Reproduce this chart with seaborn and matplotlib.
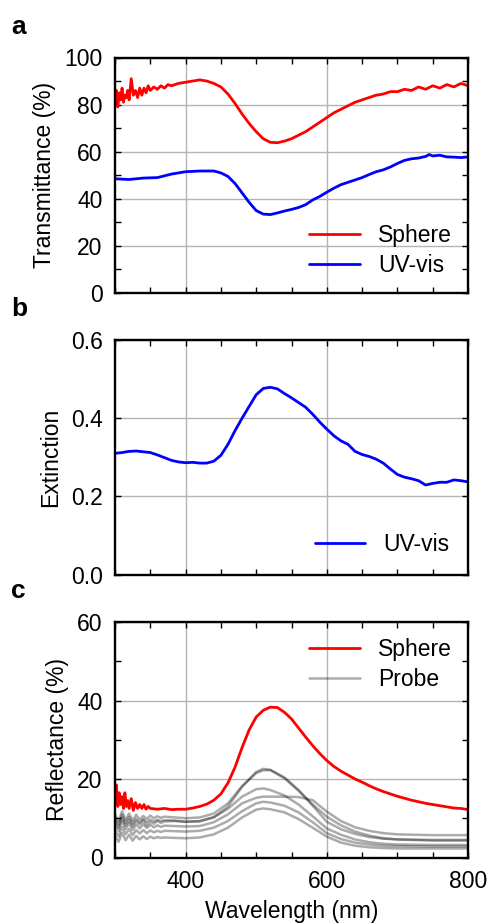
import matplotlib
matplotlib.use("Agg")
import matplotlib.pyplot as plt
from matplotlib.ticker import MultipleLocator, FixedLocator
import seaborn as sns

# ---- panel a: transmittance ----
wl_sphere_a = [300, 302, 304, 306, 308, 310, 312, 314, 316, 318, 320, 323, 326, 329, 332,
               335, 338, 341, 344, 347, 350, 355, 360, 365, 370, 375, 380, 390, 400, 410,
               420, 430, 440, 450, 460, 470, 480, 490, 500, 510, 520, 530, 540, 550, 560,
               570, 580, 590, 600, 610, 620, 630, 640, 650, 660, 670, 680, 690, 700, 710,
               720, 730, 740, 750, 760, 770, 780, 790, 800]
sphere_a = [80, 86, 79, 85, 82, 87, 81, 84, 83, 86, 82, 91, 84, 86, 83,
            87, 84, 87, 85, 88, 86, 87.5, 86.5, 88, 87, 88.5, 88, 89, 89.5, 90,
            90.5, 90, 89, 87.5, 84.5, 80.5, 76, 72, 68.5, 65.5, 64, 63.8, 64.5, 65.5, 67,
            68.5, 70.5, 72.5, 74.5, 76.5, 78, 79.5, 81, 82, 83, 84, 84.5, 85.5, 85.5, 86.5,
            86, 87.5, 86.5, 88, 87, 88.5, 87.5, 89, 88]

wl_uvvis_a = [300, 320, 340, 360, 380, 400, 420, 440, 450, 460, 470, 480, 490, 500, 510,
              520, 530, 540, 550, 560, 570, 580, 590, 600, 610, 620, 630, 640, 650, 660,
              670, 680, 690, 700, 710, 720, 730, 740, 745, 750, 760, 770, 780, 790, 800]
uvvis_a = [48.5, 48.2, 48.8, 49, 50.5, 51.5, 51.8, 51.8, 51, 49.5, 46.5, 42.5, 38.5, 35, 33.5,
           33.3, 34, 34.8, 35.5, 36.3, 37.5, 39.5, 41, 42.8, 44.5, 46, 47, 48, 49, 50.3,
           51.5, 52.3, 53.5, 55, 56.3, 57, 57.3, 58, 58.8, 58.2, 58.5, 57.8, 57.7, 57.5, 57.8]

# ---- panel b: extinction ----
wl_ext = [300, 310, 320, 330, 340, 350, 360, 370, 380, 390, 400, 410, 420, 430, 440,
          450, 460, 470, 480, 490, 500, 510, 520, 530, 540, 550, 560, 570, 580, 590,
          600, 610, 620, 630, 640, 650, 660, 670, 680, 690, 700, 710, 720, 730, 740,
          750, 760, 770, 780, 790, 800]
extinction = [0.31, 0.312, 0.315, 0.316, 0.314, 0.312, 0.306, 0.299, 0.292, 0.288, 0.286, 0.287, 0.285, 0.285, 0.29,
              0.305, 0.333, 0.368, 0.40, 0.43, 0.46, 0.476, 0.479, 0.475, 0.463, 0.452, 0.44, 0.428, 0.41, 0.39,
              0.372, 0.355, 0.342, 0.333, 0.315, 0.307, 0.302, 0.295, 0.285, 0.27, 0.256, 0.249, 0.245, 0.240, 0.229,
              0.233, 0.236, 0.236, 0.242, 0.240, 0.237]

# ---- panel c: reflectance ----
wl_sphere_c = [300, 302, 304, 306, 308, 310, 312, 314, 316, 318, 320, 323, 326, 329, 332,
               335, 338, 341, 344, 347, 350, 360, 370, 380, 390, 400, 410, 420, 430, 440,
               450, 460, 470, 480, 490, 500, 510, 520, 530, 540, 550, 560, 570, 580, 590,
               600, 610, 620, 630, 640, 650, 660, 670, 680, 690, 700, 710, 720, 730, 740,
               750, 760, 770, 780, 790, 800]
sphere_c = [14, 18.5, 13, 16.5, 13.5, 15.5, 12.5, 16.5, 13, 14.5, 12.5, 15, 12, 14, 12.5,
            13.5, 12.5, 13.5, 12.3, 13, 12.5, 12.3, 12.5, 12.2, 12.3, 12.3, 12.6, 13, 13.6, 14.6,
            16.2, 19, 23, 28, 32.5, 35.8, 37.5, 38.3, 38.2, 37, 35.3, 33, 30.7, 28.5, 26.5,
            24.7, 23.2, 22, 21, 20, 19.2, 18.3, 17.5, 16.8, 16.2, 15.6, 15.1, 14.6, 14.2, 13.8,
            13.5, 13.2, 12.9, 12.6, 12.5, 12.2]

wl_probe = [300, 305, 310, 315, 320, 325, 330, 335, 340, 345, 350, 355, 360, 365, 370,
            385, 400, 420, 440, 460, 480, 500, 510, 520, 540, 560, 580, 600, 620, 640,
            660, 680, 700, 750, 800]
probe_1 = [9.5, 7.6, 10.2, 8.1, 9.6, 7.9, 9.3, 8.4, 9.5, 8.1, 9.1, 8.6, 9.3, 8.8, 9.2,
           9.3, 9.1, 9.2, 10.2, 13.0, 18.0, 21.8, 22.6, 22.3, 20.2, 17.0, 13.5, 10.4, 8.2, 6.6,
           5.6, 4.9, 4.6, 4.3, 4.3]
probe_2 = [11.0, 9.2, 11.8, 9.6, 11.2, 9.4, 10.9, 9.7, 10.6, 9.8, 10.7, 10.0, 10.5, 10.1, 10.4,
           10.2, 10.0, 10.2, 11.2, 13.8, 18.2, 21.5, 22.2, 22.3, 20.4, 17.2, 13.2, 9.1, 7.2, 6.0,
           5.2, 4.8, 4.6, 4.5, 4.5]
probe_3 = [10.0, 8.4, 10.9, 8.8, 10.3, 8.6, 9.9, 8.9, 9.8, 9.0, 9.7, 9.2, 9.6, 9.3, 9.5,
           9.4, 9.1, 9.3, 10.3, 12.4, 15.5, 17.4, 17.6, 17.2, 15.8, 13.5, 10.5, 7.4, 5.8, 4.6,
           3.9, 3.5, 3.3, 3.2, 3.2]
probe_4 = [8.5, 6.8, 9.3, 7.2, 8.8, 7.0, 8.4, 7.4, 8.5, 7.5, 8.3, 7.7, 8.2, 7.8, 8.1,
           8.0, 7.9, 8.0, 9.0, 11.0, 13.8, 15.2, 15.5, 15.5, 15.5, 15.4, 14.6, 11.7, 9.3, 7.7,
           6.8, 6.2, 5.9, 5.7, 5.7]
probe_5 = [7.0, 5.4, 7.8, 5.9, 7.3, 5.7, 7.0, 6.1, 7.0, 6.2, 6.9, 6.4, 6.8, 6.5, 6.8,
           6.7, 6.6, 6.8, 7.6, 9.3, 11.8, 13.8, 14.2, 14.0, 13.2, 11.5, 9.0, 6.2, 4.7, 3.8,
           3.3, 3.0, 2.9, 2.8, 2.8]
probe_6 = [5.5, 4.0, 6.3, 4.4, 5.8, 4.3, 5.5, 4.6, 5.4, 4.7, 5.3, 4.9, 5.2, 5.0, 5.1,
           5.0, 4.9, 5.1, 5.9, 7.6, 10.2, 12.2, 12.5, 12.3, 11.5, 9.8, 7.6, 5.3, 3.8, 3.0,
           2.6, 2.4, 2.3, 2.3, 2.3]
probes = [probe_1, probe_2, probe_3, probe_4, probe_5, probe_6]

sns.set_style("ticks", {"xtick.direction": "in", "ytick.direction": "in"})
plt.rcParams['font.family'] = ['Liberation Sans', 'DejaVu Sans']
plt.rcParams['font.size'] = 16.5
for key in ['text.color', 'axes.labelcolor', 'xtick.color', 'ytick.color', 'axes.edgecolor']:
    plt.rcParams[key] = 'black'

FS = 16.5
LW = 2.0
fig = plt.figure(figsize=(4.9, 9.24), dpi=100)

left, width = 115 / 490, 353 / 490
ax_a = fig.add_axes([left, 1 - 293 / 924, width, 235.5 / 924])
ax_b = fig.add_axes([left, 1 - 574.5 / 924, width, 234.5 / 924])
ax_c = fig.add_axes([left, 1 - 857.5 / 924, width, 235.5 / 924])


def style_axis(ax, ymax, ymajor, yminor):
    ax.set_xlim(300, 800)
    ax.set_ylim(0, ymax)
    ax.xaxis.set_major_locator(FixedLocator([400, 600, 800]))
    ax.xaxis.set_minor_locator(MultipleLocator(50))
    ax.yaxis.set_major_locator(MultipleLocator(ymajor))
    if yminor:
        ax.yaxis.set_minor_locator(MultipleLocator(yminor))
    ax.grid(True, which='major', color='#b4b4b4', lw=1.0)
    ax.set_axisbelow(True)
    ax.tick_params(which='both', direction='in', top=True, right=True,
                   length=4, width=1, labelsize=FS, pad=9, colors='black')
    for sp in ax.spines.values():
        sp.set_linewidth(1.7)
        sp.set_color('black')
    ax.set_xlabel('')


# panel a
sns.lineplot(x=wl_sphere_a, y=sphere_a, ax=ax_a, color='#ff0000', lw=LW, label='Sphere')
sns.lineplot(x=wl_uvvis_a, y=uvvis_a, ax=ax_a, color='#0000ff', lw=LW, label='UV-vis')
style_axis(ax_a, 100, 20, 10)
ax_a.set_xticklabels([])
ax_a.set_ylabel('Transmittance (%)', fontsize=FS, labelpad=6)
ax_a.legend(loc='lower right', frameon=False, fontsize=FS, handlelength=2.2,
            handletextpad=0.8, labelspacing=0.3, borderaxespad=0.3)

# panel b
sns.lineplot(x=wl_ext, y=extinction, ax=ax_b, color='#0000ff', lw=LW, label='UV-vis')
style_axis(ax_b, 0.6, 0.2, None)
ax_b.set_xticklabels([])
ax_b.set_ylabel('Extinction', fontsize=FS, labelpad=6)
ax_b.legend(loc='lower right', frameon=False, fontsize=FS, handlelength=2.2,
            handletextpad=0.8, borderaxespad=0.3, borderpad=0.5)

# panel c
for i, p in enumerate(probes):
    sns.lineplot(x=wl_probe, y=p, ax=ax_c, color='black', alpha=0.33, lw=1.8,
                 label='Probe' if i == 0 else None)
sns.lineplot(x=wl_sphere_c, y=sphere_c, ax=ax_c, color='#ff0000', lw=LW, label='Sphere')
style_axis(ax_c, 60, 20, 10)
ax_c.set_ylabel('Reflectance (%)', fontsize=FS, labelpad=6)
ax_c.set_xlabel('Wavelength (nm)', fontsize=FS, labelpad=5)
handles, labels = ax_c.get_legend_handles_labels()
order = [labels.index('Sphere'), labels.index('Probe')]
ax_c.legend([handles[k] for k in order], [labels[k] for k in order],
            loc='upper right', frameon=False, fontsize=FS, handlelength=2.2,
            handletextpad=0.8, labelspacing=0.3, borderaxespad=0.3)

for lab, base in [('a', 34), ('b', 316), ('c', 598.5)]:
    fig.text(11 / 490, 1 - base / 924, lab, fontsize=19, fontweight='bold',
             ha='left', va='baseline')

fig.savefig('out.png', dpi=100)
